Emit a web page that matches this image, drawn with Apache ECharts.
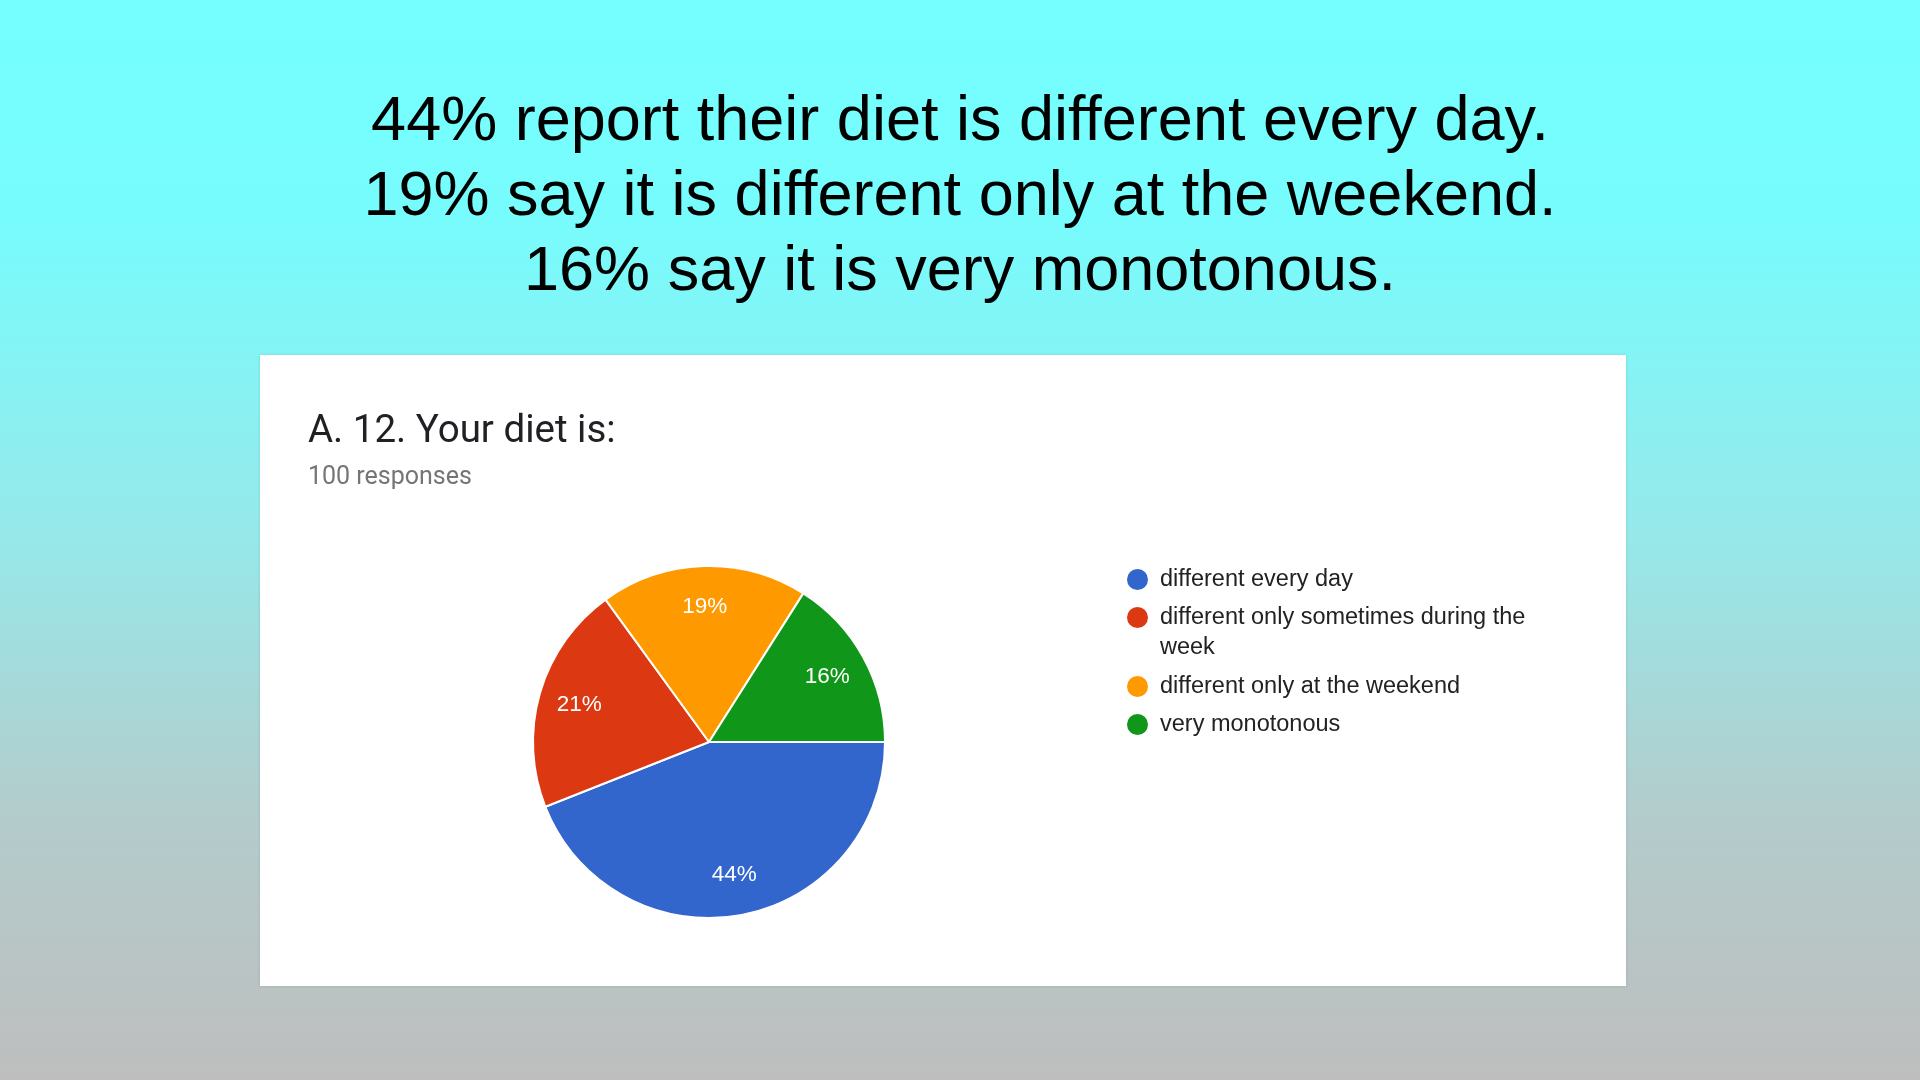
<!DOCTYPE html>
<html>
<head>
<meta charset="utf-8">
<title>A. 12. Your diet is:</title>
<script src="https://cdn.jsdelivr.net/npm/echarts@6/dist/echarts.min.js"></script>
<style>
  html, body { margin: 0; padding: 0; }
  #chart { width: 1920px; height: 1080px; }
</style>
</head>
<body>
<div id="chart"></div>
<script>
// headline lines above the card
const headline = [
  '44% report their diet is different every day.',
  '19% say it is different only at the weekend.',
  '16% say it is very monotonous.'
]
const question = 'A. 12. Your diet is:'
const responses = '100 responses'

const answers = [
  'different every day',
  'different only sometimes during the week',
  'different only at the weekend',
  'very monotonous'
]
const shares = [44, 21, 19, 16]
const colors = ['#3366cc', '#dc3912', '#ff9900', '#109618']

const center = [709, 742]
const R = 176
const legendFont = '"Liberation Sans", Arial, sans-serif'

const pieData = answers.map((name, i) => ({ name: name, value: shares[i] }))

// one legend per row so the wrapped row keeps its dot on the first line
const legendTops = [567, 605, 674, 712]
const legends = answers.map((name, i) => {
  const wrapped = name === 'different only sometimes during the week'
  return {
    data: [name],
    left: 1125,
    top: legendTops[i],
    padding: 0,
    icon: 'circle',
    itemWidth: 23,
    itemHeight: 23,
    selectedMode: false,
    formatter: n => n === 'different only sometimes during the week'
      ? '{a|different only sometimes during the}\n{a|week}' : '{a|' + n + '}',
    textStyle: {
      padding: wrapped ? [30, 0, 0, 6] : [0, 0, 0, 6],
      rich: {
        a: { fontFamily: legendFont, fontSize: 23.5, lineHeight: 30, color: '#222' }
      }
    }
  }
})

const chart = echarts.init(document.getElementById('chart'))
chart.setOption({
  animation: false,
  backgroundColor: {
    type: 'linear', x: 0, y: 0, x2: 0, y2: 1,
    colorStops: [
      { offset: 0, color: '#75ffff' },
      { offset: 0.2, color: '#77fcfd' },
      { offset: 0.5, color: '#97e8e9' },
      { offset: 0.75, color: '#b3cccc' },
      { offset: 1, color: '#bebebe' }
    ]
  },
  color: colors,
  graphic: [
    {
      type: 'rect',
      z: -1,
      shape: { x: 260, y: 355, width: 1366, height: 631 },
      style: { fill: '#fff', shadowBlur: 3, shadowColor: 'rgba(0,0,0,0.12)' }
    },
    {
      type: 'text',
      x: 960,
      y: 85,
      style: {
        text: headline.join('\n'),
        align: 'center',
        verticalAlign: 'top',
        fontFamily: '"Liberation Sans", Arial, sans-serif',
        fontSize: 63,
        lineHeight: 75,
        fill: '#000'
      }
    }
  ],
  title: [
    {
      text: question,
      left: 308,
      top: 413,
      padding: 0,
      textStyle: {
        fontFamily: 'Roboto, sans-serif',
        fontSize: 38.5,
        fontWeight: 'normal',
        lineHeight: 39,
        color: '#202124'
      }
    },
    {
      text: responses,
      left: 308,
      top: 465,
      padding: 0,
      textStyle: {
        fontFamily: 'Roboto, sans-serif',
        fontSize: 25,
        fontWeight: 'normal',
        lineHeight: 26,
        color: '#757575'
      }
    }
  ],
  legend: legends,
  series: [
    {
      type: 'pie',
      center: center,
      radius: [0, R],
      startAngle: 0,
      clockwise: true,
      label: { show: false },
      labelLine: { show: false },
      itemStyle: { borderColor: '#fff', borderWidth: 2 },
      emphasis: { disabled: true },
      data: pieData
    },
    {
      // ring only used to place the percentage labels
      type: 'pie',
      center: center,
      radius: [R * 0.5, R],
      startAngle: 0,
      clockwise: true,
      silent: true,
      itemStyle: { color: 'transparent', borderWidth: 0 },
      label: {
        show: true,
        position: 'inside',
        formatter: '{c}%',
        fontFamily: '"Liberation Sans", Arial, sans-serif',
        fontSize: 22.5,
        color: '#fff'
      },
      labelLine: { show: false },
      emphasis: { disabled: true },
      data: pieData
    }
  ]
})
</script>
</body>
</html>
